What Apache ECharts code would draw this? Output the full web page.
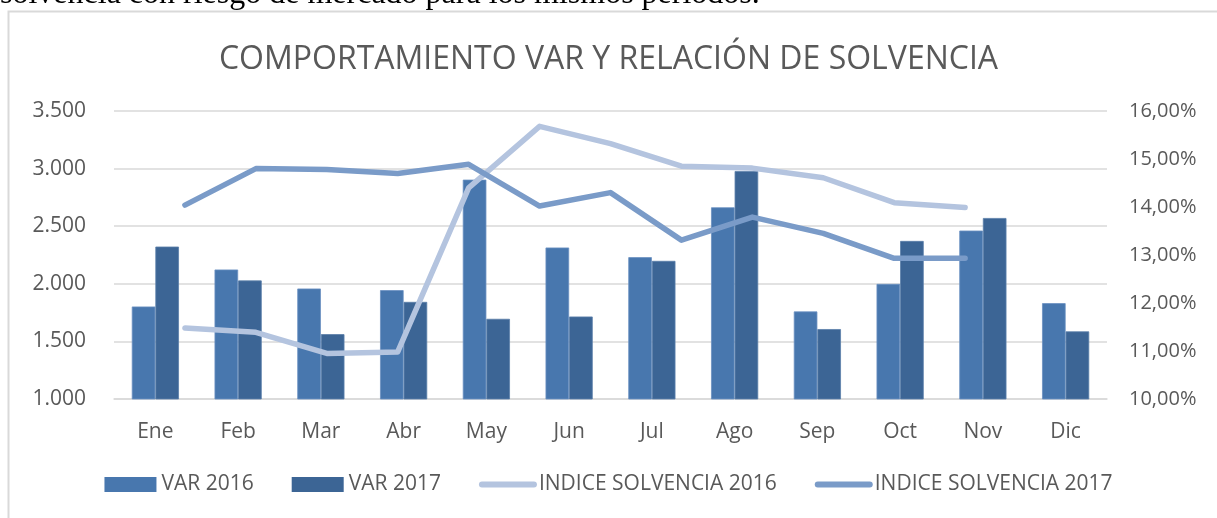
<!DOCTYPE html>
<html>
<head>
<meta charset="utf-8">
<script src="https://cdn.jsdelivr.net/npm/echarts@6/dist/echarts.min.js"></script>
<style>
	html, body { margin: 0; padding: 0; background: #fff; }
	#main { width: 1217px; height: 518px; }
</style>
</head>
<body>
<div id="main"></div>
<script>
	var meses = ["Ene", "Feb", "Mar", "Abr", "May", "Jun", "Jul", "Ago", "Sep", "Oct", "Nov", "Dic"];
	var var2016 = [1803, 2124, 1959, 1945, 2904, 2315, 2231, 2664, 1760, 1999, 2462, 1832];
	var var2017 = [2323, 2029, 1563, 1843, 1696, 1716, 2199, 2979, 1607, 2372, 2571, 1587];
	// indice de solvencia en %
	var solv2016 = [11.48, 11.39, 10.95, 10.98, 14.40, 15.68, 15.32, 14.85, 14.81, 14.61, 14.09, 13.99];
	var solv2017 = [14.04, 14.80, 14.78, 14.70, 14.89, 14.02, 14.30, 13.31, 13.79, 13.45, 12.93, 12.93];
	var varTicks = [1000, 1500, 2000, 2500, 3000, 3500];
	var solvTicks = [10, 11, 12, 13, 14, 15, 16];

	// eje secundario de las lineas: un hueco al inicio y dos al final
	var mesesSec = [""].concat(meses, ["", ""]);
	var lineaSec = function(arr) {
		return [null].concat(arr, [null, null]);
	};

	var fuente = "'Open Sans', sans-serif";
	var gris = "#595959";
	var colSolv16 = '#b4c4df';
	var colSolv17 = '#7a9bc8';

	var chart = echarts.init(document.getElementById('main'));
	var option = {
		animation: false,
		textStyle: { fontFamily: fuente },
		title: {
			text: 'COMPORTAMIENTO VAR Y RELACIÓN DE SOLVENCIA',
			left: 'center',
			top: 39,
			textStyle: {
				fontFamily: fuente,
				fontSize: 32,
				fontWeight: 'normal',
				color: gris
			}
		},
		graphic: [{
			type: 'rect',
			shape: { x: 8.5, y: 11.5, width: 1300, height: 600 },
			style: { fill: 'none', stroke: '#d9d9d9', lineWidth: 2 },
			silent: true
		}, {
			type: 'text',
			style: {
				x: 0,
				y: 11,
				text: 'solvencia con riesgo de mercado para los mismos períodos.',
				font: "32px 'Liberation Serif', serif",
				fill: '#000',
				verticalAlign: 'bottom'
			},
			silent: true
		}],
		legend: {
			bottom: 18,
			left: 'center',
			itemWidth: 52,
			itemHeight: 15,
			itemGap: 38,
			textStyle: { fontSize: 21, color: gris, fontFamily: fuente },
			data: [
				{ name: 'VAR 2016', icon: 'rect', itemStyle: { borderWidth: 0 } },
				{ name: 'VAR 2017', icon: 'rect', itemStyle: { borderWidth: 0 } },
				{
					name: 'INDICE SOLVENCIA 2016',
					itemStyle: { opacity: 0 },
					lineStyle: { color: colSolv16, width: 6, cap: 'round' }
				},
				{
					name: 'INDICE SOLVENCIA 2017',
					itemStyle: { opacity: 0 },
					lineStyle: { color: colSolv17, width: 6, cap: 'round' }
				}
			]
		},
		grid: {
			left: 114,
			right: 110,
			top: 111,
			bottom: 119
		},
		xAxis: [{
			type: 'category',
			data: meses,
			axisTick: { show: false },
			axisLine: { lineStyle: { color: '#d9d9d9', width: 1.5 } },
			axisLabel: { color: gris, fontSize: 21, margin: 23 }
		}, {
			type: 'category',
			data: mesesSec,
			boundaryGap: false,
			show: false
		}],
		yAxis: [{
			type: 'value',
			min: varTicks[0],
			max: varTicks[varTicks.length - 1],
			interval: 500,
			axisLine: { show: false },
			axisTick: { show: false },
			splitLine: { lineStyle: { color: '#d9d9d9', width: 1.5 } },
			axisLabel: {
				color: gris,
				fontSize: 21,
				margin: 28,
				formatter: function(v) {
					return String(v).replace(/\B(?=(\d{3})+(?!\d))/g, '.');
				}
			}
		}, {
			type: 'value',
			min: solvTicks[0],
			max: solvTicks[solvTicks.length - 1],
			interval: 1,
			axisLine: { show: false },
			axisTick: { show: false },
			splitLine: { show: false },
			axisLabel: {
				color: gris,
				fontSize: 20,
				margin: 22,
				formatter: function(v) {
					return v.toFixed(2).replace('.', ',') + '%';
				}
			}
		}],
		series: [{
			name: 'VAR 2016',
			type: 'bar',
			xAxisIndex: 0,
			yAxisIndex: 0,
			barGap: '0%',
			barCategoryGap: '43%',
			itemStyle: { color: '#4877ae', borderColor: '#6b91c2', borderWidth: 0.8 },
			data: var2016
		}, {
			name: 'VAR 2017',
			type: 'bar',
			xAxisIndex: 0,
			yAxisIndex: 0,
			barGap: '0%',
			barCategoryGap: '43%',
			itemStyle: { color: '#3c6595', borderColor: '#5a7faa', borderWidth: 0.8 },
			data: var2017
		}, {
			name: 'INDICE SOLVENCIA 2016',
			type: 'line',
			xAxisIndex: 1,
			yAxisIndex: 1,
			symbol: 'none',
			lineStyle: { color: colSolv16, width: 5.5, cap: 'round', join: 'round' },
			itemStyle: { color: colSolv16 },
			data: lineaSec(solv2016)
		}, {
			name: 'INDICE SOLVENCIA 2017',
			type: 'line',
			xAxisIndex: 1,
			yAxisIndex: 1,
			symbol: 'none',
			lineStyle: { color: colSolv17, width: 5.5, cap: 'round', join: 'round' },
			itemStyle: { color: colSolv17 },
			data: lineaSec(solv2017)
		}]
	};
	chart.setOption(option);
</script>
</body>
</html>
